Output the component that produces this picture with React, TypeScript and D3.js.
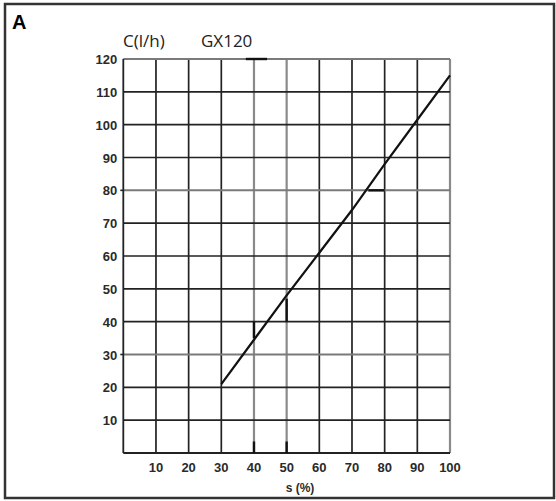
import React from "react";
import * as d3 from "d3";

// values
const xTicks = [10, 20, 30, 40, 50, 60, 70, 80, 90, 100];
const yTicks = [10, 20, 30, 40, 50, 60, 70, 80, 90, 100, 110, 120];
const strokeS = [30, 40, 50, 60, 70, 80, 90, 100];
const flowC = [21, 34.5, 48, 61, 74, 88, 101.5, 115];
const lightX = [40, 50, 100];
const lightY = [120, 80, 30];

// little pencil marks on the scan: [x1, y1, x2, y2] in data units
const marks = [
  [40, 35, 40, 40],
  [50, 40, 50, 47],
  [75, 80, 80, 80],
  [40, 0, 40, 3.5],
  [50, 0, 50, 3.5],
  [37.5, 120, 44, 120],
];

const Grid = (props) => {
  const { x, y } = props;
  return (
    <g>
      {xTicks.map((t) => (
        <line
          key={"v" + t}
          x1={x(t)}
          x2={x(t)}
          y1={y(0)}
          y2={y(120)}
          stroke={lightX.includes(t) ? "#8a8a8a" : "#222"}
          strokeWidth={lightX.includes(t) ? 2.2 : 1.7}
        />
      ))}
      {yTicks.map((t) => (
        <line
          key={"h" + t}
          x1={x(0)}
          x2={x(100)}
          y1={y(t)}
          y2={y(t)}
          stroke={lightY.includes(t) ? "#7a7a7a" : "#222"}
          strokeWidth={lightY.includes(t) ? 2 : 1.7}
        />
      ))}
      <line x1={x(0)} x2={x(0)} y1={y(0)} y2={y(120)} stroke="#222" strokeWidth="1.8" />
      <line x1={x(0)} x2={x(100)} y1={y(0)} y2={y(0)} stroke="#222" strokeWidth="1.8" />
      {[80, 30].map((t) => (
        <line key={"t" + t} x1={x(0) - 3} x2={x(0)} y1={y(t)} y2={y(t)} stroke="#222" strokeWidth="1.6" />
      ))}
    </g>
  );
};

const Labels = (props) => {
  const { x, y } = props;
  const style = {
    fontFamily: "'Liberation Sans', Arial, sans-serif",
    fontSize: 13,
    fontWeight: "bold",
    fill: "#2a2a2a",
  };
  return (
    <g>
      {yTicks.map((t) => (
        <text key={"y" + t} x={x(0) - 6} y={y(t) + 5} textAnchor="end" style={style}>
          {t}
        </text>
      ))}
      {xTicks.map((t) => (
        <text key={"x" + t} x={x(t)} y={472} textAnchor="middle" style={style}>
          {t}
        </text>
      ))}
      <text x={300} y={492} textAnchor="middle" style={{ ...style, fontSize: 12 }}>
        s (%)
      </text>
    </g>
  );
};

export default function App() {
  const width = 556;
  const height = 501;

  const x = d3.scaleLinear().domain([0, 100]).range([123.3, 450]);
  const y = d3.scaleLinear().domain([0, 120]).range([453, 59]);

  const points = strokeS.map((s, i) => [s, flowC[i]]);
  const line = d3
    .line()
    .x((d) => x(d[0]))
    .y((d) => y(d[1]));

  const titleStyle = { fontFamily: "'Open Sans', sans-serif", fontSize: 17, fill: "#222" };

  return (
    <svg
      width={width}
      height={height}
      style={{ position: "absolute", left: 0, top: 0, background: "#fff" }}
    >
      <rect x="5" y="4" width="549" height="494" fill="#fff" stroke="#333" strokeWidth="2.5" />
      <text
        x="12"
        y="29"
        style={{ fontFamily: "'Liberation Sans', Arial, sans-serif", fontSize: 20, fontWeight: "bold" }}
      >
        A
      </text>
      <text x="123" y="47" style={titleStyle}>
        C(l/h)
      </text>
      <text x="201" y="47" style={titleStyle}>
        GX120
      </text>
      <Grid x={x} y={y} />
      <Labels x={x} y={y} />
      <path d={line(points)} fill="none" stroke="#111" strokeWidth="2.2" />
      {marks.map((m, i) => (
        <line
          key={i}
          x1={x(m[0])}
          y1={y(m[1])}
          x2={x(m[2])}
          y2={y(m[3])}
          stroke="#111"
          strokeWidth="2.4"
        />
      ))}
    </svg>
  );
}
